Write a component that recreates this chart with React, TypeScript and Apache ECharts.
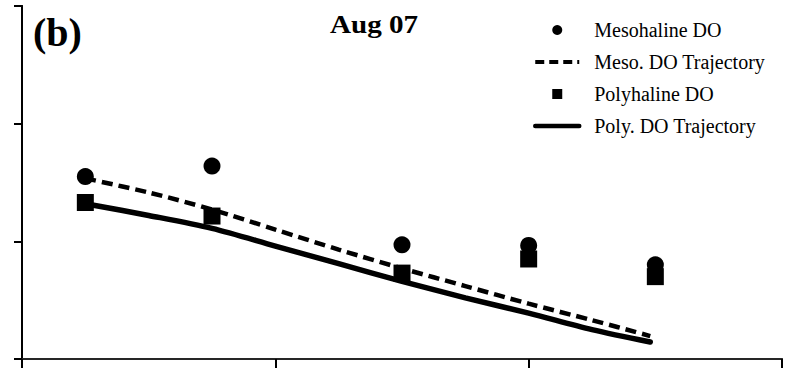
import React, { useEffect, useRef } from "react";
import * as echarts from "echarts";

// Observed points (x in axis units, y in DO units)
const obsX = [0.25, 0.75, 1.5, 2.0, 2.5];
const mesoDO = [1.55, 1.64, 0.97, 0.965, 0.8];
const polyDO = [1.33, 1.215, 0.73, 0.85, 0.7];
// Trajectories
const trajX = [0.25, 0.5, 0.75, 1.0, 1.25, 1.5, 1.75, 2.0, 2.25, 2.48];
const mesoTraj = [1.535, 1.415, 1.27, 1.1, 0.93, 0.77, 0.62, 0.47, 0.33, 0.195];
const polyTraj = [1.32, 1.22, 1.11, 0.96, 0.81, 0.66, 0.52, 0.39, 0.25, 0.145];
const xTicks = [0, 1, 2, 3];
const yTicks = [0, 1, 2, 3];

const names = ["Mesohaline DO", "Meso. DO Trajectory", "Polyhaline DO", "Poly. DO Trajectory"];
const panelLabel = "(b)";
const titleText = "Aug 07";

const FONT = "'Liberation Serif', 'Times New Roman', serif";

export default function App() {
  const ref = useRef<HTMLDivElement>(null);
  useEffect(() => {
    if (!ref.current) return;
    const chart = echarts.init(ref.current, undefined, { renderer: "svg" });
    const pairs = (xs: number[], ys: number[]) => xs.map((x, i) => [x, ys[i]]);
    chart.setOption({
      animation: false,
      backgroundColor: "#ffffff",
      grid: { left: 22, right: 13, top: 6, bottom: 9 },
      xAxis: [
        {
          type: "value",
          min: xTicks[0],
          max: xTicks[xTicks.length - 1],
          interval: 1,
          axisLine: { show: true, onZero: false, lineStyle: { color: "#000", width: 2 } },
          axisTick: { show: true, inside: false, length: 10, lineStyle: { color: "#000", width: 2 } },
          axisLabel: { show: false },
          splitLine: { show: false },
        },
        {
          type: "value",
          position: "top",
          min: xTicks[0],
          max: xTicks[xTicks.length - 1],
          axisLine: { show: true, lineStyle: { color: "#333", width: 1.5 } },
          axisTick: { show: false },
          axisLabel: { show: false },
          splitLine: { show: false },
        },
      ],
      yAxis: [
        {
          type: "value",
          min: yTicks[0],
          max: yTicks[yTicks.length - 1],
          interval: 1,
          axisLine: { show: true, onZero: false, lineStyle: { color: "#000", width: 2 } },
          axisTick: { show: true, inside: false, length: 8, lineStyle: { color: "#000", width: 2 } },
          axisLabel: { show: false },
          splitLine: { show: false },
        },
        {
          type: "value",
          position: "right",
          min: yTicks[0],
          max: yTicks[yTicks.length - 1],
          axisLine: { show: true, lineStyle: { color: "#000", width: 2 } },
          axisTick: { show: false },
          axisLabel: { show: false },
          splitLine: { show: false },
        },
      ],
      legend: {
        orient: "vertical",
        left: 533,
        top: 20,
        padding: 0,
        itemWidth: 44,
        itemHeight: 10,
        itemGap: 12,
        selectedMode: false,
        textStyle: {
          fontFamily: FONT,
          fontSize: 20,
          color: "#000",
          lineHeight: 20,
          padding: [0, 0, 0, 10],
        },
        data: [
          { name: names[0], icon: "circle", itemStyle: { color: "#000", opacity: 1 } },
          {
            name: names[1],
            itemStyle: { opacity: 0 },
            lineStyle: { width: 4, type: [9, 5], color: "#000" },
          },
          {
            name: names[2],
            icon: "path://M0,0L10,0L10,10L0,10Z",
            itemStyle: { color: "#000", opacity: 1 },
          },
          {
            name: names[3],
            itemStyle: { opacity: 0 },
            lineStyle: { width: 4.5, type: "solid", color: "#000" },
          },
        ],
      },
      graphic: [
        {
          type: "text",
          left: 33,
          top: 12,
          style: { text: panelLabel, font: `bold 40px ${FONT}`, fill: "#000" },
        },
        {
          type: "text",
          x: 330,
          y: 11,
          scaleX: 1.12,
          style: { text: titleText, font: `bold 26px ${FONT}`, fill: "#000" },
        },
      ],
      series: [
        {
          name: names[1],
          type: "line",
          data: pairs(trajX, mesoTraj),
          smooth: 0.3,
          symbol: "none",
          itemStyle: { color: "#000" },
          lineStyle: { color: "#000", width: 4.5, type: [11, 6] },
          z: 2,
        },
        {
          name: names[3],
          type: "line",
          data: pairs(trajX, polyTraj),
          smooth: 0.3,
          symbol: "none",
          itemStyle: { color: "#000" },
          lineStyle: { color: "#000", width: 5.5, type: "solid", cap: "round" },
          z: 2,
        },
        {
          name: names[0],
          type: "scatter",
          data: pairs(obsX, mesoDO),
          symbol: "circle",
          symbolSize: 17,
          itemStyle: { color: "#000", opacity: 1 },
          z: 3,
        },
        {
          name: names[2],
          type: "scatter",
          data: pairs(obsX, polyDO),
          symbol: "rect",
          symbolSize: 17,
          itemStyle: { color: "#000", opacity: 1 },
          z: 3,
        },
      ],
    });
    return () => chart.dispose();
  }, []);
  return (
    <div
      ref={ref}
      style={{ position: "absolute", left: 0, top: 0, width: 795, height: 368 }}
    />
  );
}
